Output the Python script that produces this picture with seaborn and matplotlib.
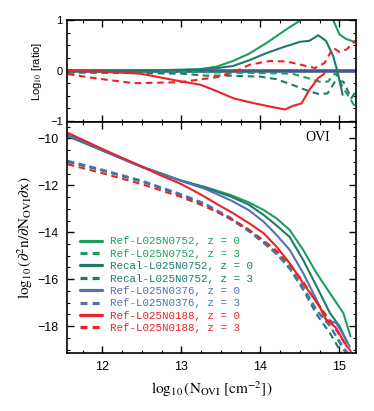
import numpy as np
import pandas as pd
import seaborn as sns
import matplotlib.pyplot as plt
from matplotlib.lines import Line2D
from matplotlib.ticker import MultipleLocator


# colours of the four runs
c_ref = '#1e9e5c'
c_recal = '#1f7a6c'
c_mid = '#5470b8'
c_low = '#ea2328'

# bottom panel: log10 CDDF, z = 0 (solid) and z = 3 (dashed)
x_ref0 = [11.56, 12.0, 12.5, 13.0, 13.3, 13.62, 13.85, 14.04, 14.2, 14.37, 14.54, 14.71, 14.88, 15.05, 15.14]
y_ref0 = [-9.86, -10.5, -11.2, -11.8, -12.07, -12.41, -12.72, -13.05, -13.4, -13.9, -14.75, -15.74, -16.6, -17.45, -18.44]
x_recal0 = [11.56, 12.0, 12.5, 13.0, 13.3, 13.62, 13.85, 14.04, 14.2, 14.37, 14.54, 14.71, 14.88, 15.0, 15.1]
y_recal0 = [-9.9, -10.52, -11.22, -11.8, -12.1, -12.47, -12.82, -13.26, -13.7, -14.2, -15.18, -16.3, -17.45, -18.0, -18.7]
x_mid0 = [11.56, 12.0, 12.5, 13.0, 13.3, 13.62, 13.85, 14.04, 14.2, 14.37, 14.54, 14.71, 14.83, 14.96, 15.06, 15.13]
y_mid0 = [-9.85, -10.5, -11.22, -11.82, -12.15, -12.63, -13.05, -13.55, -14.1, -14.75, -15.74, -16.88, -17.73, -17.87, -18.44, -18.87]
x_low0 = [11.56, 12.0, 12.5, 12.73, 13.0, 13.24, 13.45, 13.62, 13.85, 14.04, 14.2, 14.37, 14.54, 14.75, 14.83, 14.95, 15.1]
y_low0 = [-9.76, -10.45, -11.2, -11.56, -11.95, -12.38, -12.8, -13.12, -13.6, -14.04, -14.6, -15.32, -16.17, -17.17, -17.73, -18.05, -18.9]

x_ref3 = [11.56, 12.0, 12.5, 13.0, 13.3, 13.62, 13.85, 14.04, 14.2, 14.37, 14.54, 14.71, 14.88, 15.05, 15.12]
y_ref3 = [-10.98, -11.35, -11.82, -12.4, -12.8, -13.4, -13.9, -14.4, -14.85, -15.46, -16.31, -17.3, -18.0, -19.0, -19.3]
x_recal3 = [11.56, 12.0, 12.5, 13.0, 13.3, 13.62, 13.85, 14.04, 14.2, 14.37, 14.54, 14.71, 14.88, 15.0, 15.08]
y_recal3 = [-11.0, -11.37, -11.84, -12.42, -12.83, -13.44, -13.95, -14.46, -14.92, -15.55, -16.45, -17.5, -18.3, -19.0, -19.4]
x_mid3 = [11.56, 12.0, 12.5, 13.0, 13.3, 13.62, 13.85, 14.04, 14.2, 14.37, 14.54, 14.71, 14.88, 15.05, 15.12]
y_mid3 = [-10.95, -11.33, -11.8, -12.38, -12.78, -13.38, -13.9, -14.42, -14.9, -15.55, -16.4, -17.35, -18.0, -18.9, -19.2]
x_low3 = [11.56, 12.0, 12.5, 13.0, 13.3, 13.62, 13.85, 14.04, 14.2, 14.37, 14.54, 14.71, 14.88, 15.05, 15.15]
y_low3 = [-11.1, -11.48, -11.95, -12.5, -12.9, -13.42, -13.88, -14.35, -14.78, -15.35, -16.1, -17.0, -17.75, -18.65, -19.1]

# top panel: log10 ratio to Ref-L025N0376
r_x_ref0 = [11.56, 12.0, 12.5, 12.8, 13.0, 13.24, 13.45, 13.65, 13.85, 14.08, 14.33, 14.5, 14.7, 14.8, 14.92, 15.0, 15.08, 15.17, 15.21]
r_y_ref0 = [0.0, 0.0, 0.0, 0.01, 0.02, 0.03, 0.08, 0.19, 0.33, 0.55, 0.82, 0.99, 1.2, 1.3, 1.0, 0.72, 0.63, 0.58, 0.57]
r_x_recal0 = [11.56, 12.5, 13.0, 13.24, 13.45, 13.65, 13.85, 14.08, 14.3, 14.5, 14.62, 14.73, 14.83, 14.92, 14.98, 15.04]
r_y_recal0 = [0.0, 0.0, 0.01, 0.02, 0.05, 0.09, 0.2, 0.35, 0.47, 0.57, 0.59, 0.70, 0.59, 0.29, -0.05, -0.48]
r_x_low0 = [11.56, 12.0, 12.48, 12.98, 13.24, 13.45, 13.66, 13.87, 14.08, 14.31, 14.41, 14.52, 14.62, 14.73, 14.81]
r_y_low0 = [0.0, -0.02, -0.06, -0.21, -0.28, -0.41, -0.55, -0.63, -0.70, -0.77, -0.70, -0.65, -0.38, -0.15, -0.06]

r_x_ref3 = [11.56, 12.5, 13.0, 13.5, 14.0, 14.4, 14.6, 14.75, 14.85, 14.95, 15.05, 15.2]
r_y_ref3 = [-0.03, -0.02, -0.02, -0.04, -0.05, -0.06, -0.15, -0.22, -0.22, -0.05, -0.35, -0.72]
r_x_recal3 = [11.56, 12.5, 13.0, 13.3, 13.6, 14.0, 14.2, 14.4, 14.6, 14.75, 14.85, 14.95, 15.05, 15.15, 15.21]
r_y_recal3 = [-0.04, -0.05, -0.06, -0.1, -0.1, -0.12, -0.17, -0.28, -0.4, -0.47, -0.45, -0.2, -0.22, -0.55, -0.4]
r_x_low3 = [11.56, 11.9, 12.4, 12.98, 13.45, 13.66, 13.87, 14.12, 14.33, 14.5, 14.69, 14.81, 14.92, 15.0, 15.09, 15.21]
r_y_low3 = [-0.07, -0.15, -0.25, -0.23, -0.13, -0.03, 0.12, 0.19, 0.18, 0.12, 0.05, 0.15, 0.45, 0.37, 0.42, 0.6]
r_x_mid = [11.56, 15.21]
r_y_mid = [0.0, 0.0]

labels = ['Ref-L025N0752, z = 0', 'Ref-L025N0752, z = 3',
          'Recal-L025N0752, z = 0', 'Recal-L025N0752, z = 3',
          'Ref-L025N0376, z = 0', 'Ref-L025N0376, z = 3',
          'Ref-L025N0188, z = 0', 'Ref-L025N0188, z = 3']


sns.set_theme(style='ticks')
plt.rcParams['font.family'] = ['Liberation Sans', 'DejaVu Sans']
plt.rcParams['mathtext.fontset'] = 'stix'
plt.rcParams['xtick.direction'] = 'in'
plt.rcParams['ytick.direction'] = 'in'
plt.rcParams['xtick.top'] = True
plt.rcParams['ytick.right'] = True
plt.rcParams['xtick.color'] = 'black'
plt.rcParams['ytick.color'] = 'black'
plt.rcParams['axes.labelcolor'] = 'black'
plt.rcParams['text.color'] = 'black'

fig = plt.figure(figsize=(3.74, 4.11), dpi=100)
ax1 = fig.add_axes([0.179, 0.703, 0.773, 0.248])
ax2 = fig.add_axes([0.179, 0.141, 0.773, 0.562])

lw = 1.5
dash = (3.2, 2.2)

def draw(ax, x, y, c, dashed=False, w=lw):
    sns.lineplot(x=x, y=y, ax=ax, color=c, lw=w, estimator=None, sort=False,
                 dashes=False)
    ln = ax.lines[-1]
    if dashed:
        ln.set_dashes(dash)

#top panel
draw(ax1, r_x_mid, r_y_mid, '#45598f', w=2.6)
draw(ax1, r_x_ref0, r_y_ref0, c_ref)
draw(ax1, r_x_ref3, r_y_ref3, c_ref, True)
draw(ax1, r_x_recal0, r_y_recal0, c_recal)
draw(ax1, r_x_recal3, r_y_recal3, c_recal, True)
draw(ax1, r_x_low0, r_y_low0, c_low)
draw(ax1, r_x_low3, r_y_low3, c_low, True)

#bottom panel
draw(ax2, x_ref0, y_ref0, c_ref)
draw(ax2, x_ref3, y_ref3, c_ref, True)
draw(ax2, x_recal0, y_recal0, c_recal)
draw(ax2, x_recal3, y_recal3, c_recal, True)
draw(ax2, x_mid0, y_mid0, c_mid)
draw(ax2, x_mid3, y_mid3, c_mid, True)
draw(ax2, x_low0, y_low0, c_low)
draw(ax2, x_low3, y_low3, c_low, True)

for ax in (ax1, ax2):
    ax.set_xlim(11.55, 15.21)
    ax.xaxis.set_major_locator(MultipleLocator(1))
    ax.xaxis.set_minor_locator(MultipleLocator(0.25))
    ax.tick_params(which='major', length=5, width=1.0, labelsize=9, pad=6)
    ax.tick_params(which='minor', length=2.5, width=0.8)
    ax.tick_params(which='both', top=True, right=True)
    for s in ax.spines.values():
        s.set_linewidth(1.2)
        s.set_color('black')

ax1.set_ylim(-1.02, 1.0)
ax1.yaxis.set_major_locator(MultipleLocator(1))
ax1.yaxis.set_minor_locator(MultipleLocator(0.25))
ax1.set_yticks([-1, 0, 1])
ax1.set_yticklabels(['\u22121', '0', '1'])
ax1.tick_params(labelbottom=False, labelsize=8, pad=3)
ax1.set_ylabel('Log$_{10}$ [ratio]', fontsize=8, labelpad=4)
ax1.set_xlabel('')

ax2.set_ylim(-19.15, -9.3)
ax2.yaxis.set_major_locator(MultipleLocator(2))
ax2.yaxis.set_minor_locator(MultipleLocator(0.5))
ax2.set_xticks([12, 13, 14, 15])
ax2.set_ylabel(r'$\log_{10}(\partial^2\mathrm{n}/\partial\mathrm{N}_{\mathrm{OVI}}\partial\mathrm{x})$',
               fontsize=11, labelpad=2)
ax2.set_xlabel(r'$\log_{10}(\mathrm{N}_{\mathrm{OVI}}\ [\mathrm{cm}^{-2}])$', fontsize=11, labelpad=4)
ax2.text(0.91, 0.935, 'OVI', transform=ax2.transAxes, ha='right', va='center',
         fontsize=10, family='Liberation Serif')

colors = [c_ref, c_ref, c_recal, c_recal, c_mid, c_mid, c_low, c_low]
handles = []
for i, (lab, c) in enumerate(zip(labels, colors)):
    h = Line2D([], [], color=c, lw=2.3)
    if i % 2 == 1:
        h.set_dashes((2.2, 1.6))
    handles.append(h)
leg = ax2.legend(handles, labels, loc='upper left', bbox_to_anchor=(0.045, 0.505),
                 frameon=False, borderpad=0, borderaxespad=0, handlelength=2.0,
                 handletextpad=0.75, labelspacing=0.22,
                 prop={'family': 'Liberation Mono', 'size': 7.8})
for t, c in zip(leg.get_texts(), colors):
    t.set_color(c)

fig.savefig('out.png', dpi=100)
